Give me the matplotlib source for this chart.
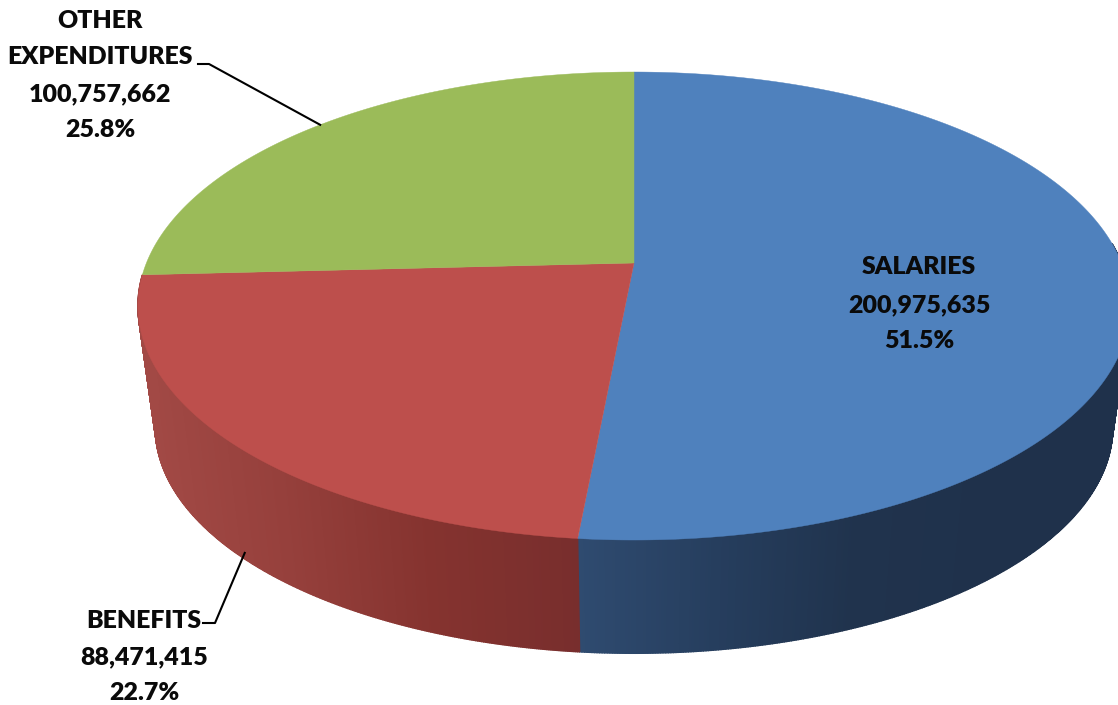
import numpy as np
import matplotlib
matplotlib.use("Agg")
import matplotlib.pyplot as plt
from matplotlib.colors import LinearSegmentedColormap

# datos del grafico
labels = ["SALARIES", "BENEFITS", "OTHER\nEXPENDITURES"]
values = [200975635, 88471415, 100757662]
percents = ["51.5%", "22.7%", "25.8%"]

top_colors = ["#4f81bd", "#bd4f4c", "#9bbb59"]
side_colors = [["#2f4b70", "#263e5e", "#20334d", "#1f314b", "#1f314b"],
               ["#a34a46", "#96403c", "#85332f", "#782e2d"]]

# perspectiva del disco, en pixeles de la imagen
cx, cy, rx, ry, k = 634, 263, 487.6, 226.1, 0.1838
bot_cy, bot_scale = 386, 0.965


def project(theta, base=False):
    u, v = np.sin(theta), np.cos(theta)
    w = 1 + k * v
    if base:
        return cx + bot_scale * rx * u / w, bot_cy - bot_scale * ry * v / w
    return cx + rx * u / w, cy - ry * v / w


fig = plt.figure(figsize=(11.18, 7.05), dpi=100)
ax = fig.add_axes([0, 0, 1, 1])
ax.set_xlim(0, 1118)
ax.set_ylim(705, 0)
ax.axis("off")

fractions = np.array(values) / sum(values)
edges = np.concatenate([[0], np.cumsum(fractions)]) * 2 * np.pi

# cara lateral: tiras verticales con degradado (solo la parte visible)
for i in [0, 1]:
    cmap = LinearSegmentedColormap.from_list("side", side_colors[i])
    ts = np.linspace(max(edges[i], np.radians(85)), edges[i + 1], 400)
    xt, yt = project(ts)
    xb, yb = project(ts, base=True)
    xmin, xmax = min(xt.min(), xb.min()), max(xt.max(), xb.max())
    for j in range(len(ts) - 1):
        xs = [xt[j], xt[j + 1], xb[j + 1], xb[j]]
        ys = [yt[j], yt[j + 1], yb[j + 1], yb[j]]
        c = cmap((0.5 * (xt[j] + xb[j]) - xmin) / (xmax - xmin))
        ax.fill(xs, ys, color=c, lw=1.0, zorder=2)

# cara superior
for i in range(3):
    ts = np.linspace(edges[i], edges[i + 1], 300)
    x, y = project(ts)
    ax.fill(np.r_[cx, x], np.r_[cy, y], color=top_colors[i], lw=0.3, zorder=3)

font = dict(family="Lato", fontweight="heavy", fontsize=17.9, color="#0a0a0a",
            ha="center", va="center", zorder=5)

# etiquetas, una linea por vez
ax.text(919, 267, labels[0], **font)
ax.text(919, 305, f"{values[0]:,}", **font)
ax.text(919, 341, percents[0], **font)

ax.text(144, 621, labels[1], **font)
ax.text(144, 657, f"{values[1]:,}", **font)
ax.text(144, 693, percents[1], **font)

ax.text(100, 21, labels[2].split("\n")[0], **font)
ax.text(100, 57, labels[2].split("\n")[1], **font)
ax.text(100, 94, f"{values[2]:,}", **font)
ax.text(100, 130, percents[2], **font)

# lineas guia
mids = 0.5 * (edges[:-1] + edges[1:])
x2, y2 = project(mids[2])
ax.plot([198, 209, x2], [64, 64, y2], color="black", lw=1.5, zorder=4)
x1, y1 = project(mids[1], base=True)
ax.plot([203, 215, x1], [623, 623, y1 - 6], color="black", lw=1.5, zorder=4)

fig.savefig("out.png", dpi=100, facecolor="white")
